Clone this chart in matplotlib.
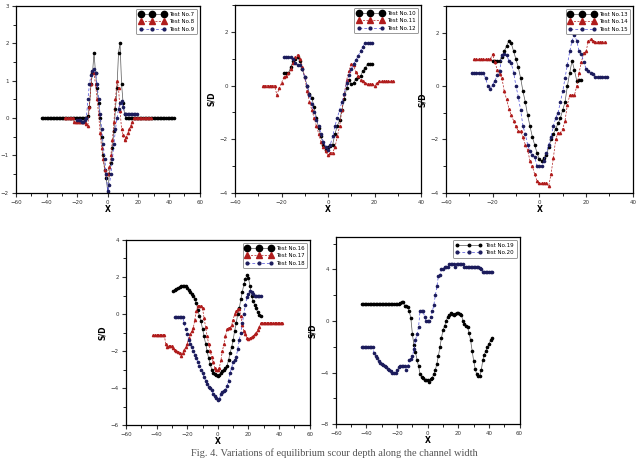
import numpy as np
import matplotlib
matplotlib.use('Agg')
import matplotlib.pyplot as plt
from matplotlib.lines import Line2D

# ---- data (1 unit spacing in X) ----
x7 = np.arange(-43, 44)
y7 = [0]*30 + [0.05, 0.3, 0.9, 1.2, 1.75, 1.2, 0.8, 0.4, 0.0, -0.5, -1.0, -1.4, -1.6, -2.0,
      -1.5, -1.2, -0.8, -0.35, 0.25, 0.8, 1.75, 2.0, 0.9, 0.4, 0.1] + [0]*32
x8 = np.arange(-28, 29)
y8 = [0, 0, 0, 0, 0, 0, -0.1, -0.1, -0.1, -0.1, -0.1, -0.1, -0.1, -0.1, -0.15, -0.2,
      0.3, 0.9, 1.25, 1.2, 0.9, 0.5, 0.1, -0.4, -0.8, -1.1, -1.4, -1.5, -1.5, -1.3, -1.0,
      -0.6, -0.1, 0.5, 1.0, 0.8, 0.2, -0.3, -0.45, -0.6, -0.5, -0.4, -0.3, -0.2, -0.1,
      0, 0, 0, 0, 0, 0, 0, 0, 0, 0, 0, 0]
x9 = np.arange(-20, 20)
y9 = [-0.05, -0.05, -0.05, -0.1, -0.1, -0.05, 0.0, 0.5, 0.9, 1.15, 1.25, 1.3, 1.2, 0.9,
      0.5, 0.1, -0.3, -0.7, -1.1, -1.5, -1.95, -1.8, -1.5, -1.1, -0.7, -0.3, 0.0, 0.25,
      0.4, 0.45, 0.3, 0.1, 0.1, 0.1, 0.1, 0.1, 0.1, 0.1, 0.1, 0.1]

x10 = np.arange(-19, 20)
y10 = [0.45, 0.45, 0.45, 0.7, 0.9, 1.0, 1.05, 0.9, 0.6, 0.3, 0.0, -0.3, -0.45, -0.8, -1.2,
       -1.6, -1.9, -2.2, -2.4, -2.3, -2.25, -2.2, -1.8, -1.5, -1.3, -0.9, -0.5, -0.1, 0.2,
       0.05, 0.1, 0.25, 0.3, 0.35, 0.55, 0.65, 0.8, 0.8, 0.8]
x11 = np.arange(-28, 29)
y11 = [0, 0, 0, 0, 0, 0, -0.35, -0.1, 0.1, 0.3, 0.35, 0.45, 0.6, 0.85, 1.05, 1.15, 1.0,
       0.7, 0.3, -0.2, -0.6, -0.9, -1.2, -1.5, -1.8, -2.1, -2.3, -2.45, -2.6, -2.5, -2.5,
       -2.3, -1.9, -1.5, -0.9, -0.3, 0.2, 0.55, 0.8, 0.75, 0.5, 0.35, 0.2, 0.15, 0.1,
       0.05, 0.05, 0.05, 0, 0.1, 0.15, 0.15, 0.15, 0.15, 0.15, 0.15, 0.15]
x12 = np.arange(-19, 20)
y12 = [1.05, 1.05, 1.05, 1.05, 1.0, 0.85, 0.75, 0.75, 0.6, 0.3, 0.0, -0.35, -0.7, -1.0,
       -1.3, -1.5, -1.8, -2.1, -2.3, -2.4, -2.2, -1.9, -1.5, -1.2, -0.9, -0.6, -0.3, 0.1,
       0.4, 0.6, 0.8, 0.95, 1.1, 1.3, 1.45, 1.6, 1.6, 1.6, 1.6]

x13 = np.arange(-20, 19)
y13 = [0.95, 0.95, 0.95, 0.95, 1.1, 1.3, 1.5, 1.7, 1.6, 1.3, 1.0, 0.7, 0.3, -0.2, -0.6,
       -1.1, -1.5, -1.9, -2.2, -2.5, -2.75, -2.8, -2.7, -2.6, -2.3, -2.0, -1.8, -1.6, -1.4,
       -1.2, -0.9, -0.6, 0.0, 0.5, 0.95, 0.6, 0.2, 0.22, 0.22]
x14 = np.arange(-28, 29)
y14 = [1.0, 1.0, 1.0, 1.0, 1.0, 1.0, 1.0, 1.0, 1.2, 0.9, 0.6, 0.45, 0.3, -0.2, -0.5, -0.85,
       -1.1, -1.3, -1.5, -1.7, -1.7, -1.9, -2.2, -2.4, -2.8, -3.0, -3.3, -3.55, -3.65,
       -3.65, -3.65, -3.65, -3.75, -3.3, -2.7, -2.0, -1.75, -1.75, -1.6, -1.3, -0.7, -0.35,
       -0.35, -0.35, 0.0, 0.5, 0.9, 1.25, 1.3, 1.7, 1.75, 1.7, 1.65, 1.65, 1.65, 1.65, 1.65]
x15 = np.arange(-29, 30)
y15 = [0.5, 0.5, 0.5, 0.5, 0.5, 0.5, 0.3, 0.0, -0.1, 0.05, 0.2, 0.4, 0.55, 1.15, 1.2,
       1.15, 0.95, 0.85, 0.5, 0.0, -0.4, -0.9, -1.5, -1.8, -2.2, -2.45, -2.6, -2.65, -3.0,
       -3.0, -3.0, -2.8, -2.5, -2.2, -1.9, -1.5, -1.2, -1.0, -0.6, -0.2, 0.3, 0.8, 1.3,
       1.7, 1.9, 1.7, 1.3, 1.2, 0.9, 0.65, 0.55, 0.5, 0.45, 0.35, 0.35, 0.35, 0.35, 0.35, 0.35]

x16 = np.arange(-29, 29)
y16 = [1.25, 1.3, 1.35, 1.4, 1.45, 1.5, 1.5, 1.5, 1.5, 1.4, 1.3, 1.2, 1.1, 1.0, 0.8, 0.6,
       0.2, -0.1, -0.4, -0.8, -1.2, -1.6, -2.0, -2.4, -2.7, -3.0, -3.2, -3.25, -3.3, -3.35,
       -3.3, -3.2, -3.1, -3.0, -2.9, -2.8, -2.5, -2.1, -1.8, -1.4, -0.9, -0.5, 0.0, 0.3,
       0.8, 1.2, 1.6, 1.9, 2.1, 1.95, 1.5, 1.0, 0.7, 0.5, 0.3, 0.1, -0.05, -0.1]
x17 = np.arange(-42, 43)
y17 = [-1.15]*8 + [-1.6, -1.8, -1.75, -1.75, -1.75, -1.85, -1.95, -2.0, -2.05, -2.1, -2.25,
       -2.1, -1.95, -1.8, -1.6, -1.3, -1.1, -0.9, -0.75, -0.3, 0.15, 0.45, 0.45, 0.45, 0.3,
       -0.2, -0.7, -1.2, -1.6, -2.0, -2.3, -2.6, -2.9, -3.0, -3.05, -2.9, -2.5, -2.0, -1.6,
       -1.2, -0.8, -0.75, -0.75, -0.6, -0.3, 0.0, 0.15, 0.25, 0.25, -0.1, -0.6, -0.9, -1.1,
       -1.3, -1.35, -1.3, -1.25, -1.2, -1.1, -1.0, -0.85, -0.7, -0.5] + [-0.5]*14
x18 = np.arange(-28, 29)
y18 = [-0.15, -0.15, -0.15, -0.15, -0.15, -0.15, -0.5, -0.8, -1.1, -1.4, -1.6, -1.8, -2.0,
       -2.2, -2.4, -2.6, -2.8, -3.0, -3.2, -3.4, -3.6, -3.8, -3.95, -4.0, -4.1, -4.3, -4.45,
       -4.55, -4.65, -4.6, -4.3, -4.2, -4.15, -4.1, -3.9, -3.6, -3.2, -2.9, -2.6, -2.5,
       -2.3, -1.9, -1.4, -1.0, -0.5, 0.0, 0.5, 0.9, 1.1, 1.25, 1.2, 1.1, 1.0, 1.0, 1.0,
       1.0, 1.0]

x19 = np.arange(-43, 43)
y19 = [1.35]*25 + [1.4, 1.45, 1.45, 1.2, 1.15, 1.1, 0.75, 0.2, -1.0, -1.9, -2.4, -3.0,
       -3.5, -4.1, -4.35, -4.45, -4.6, -4.6, -4.6, -4.75, -4.5, -4.4, -4.1, -3.8, -3.3,
       -2.7, -2.0, -1.3, -0.7, -0.4, 0.0, 0.3, 0.45, 0.6, 0.55, 0.5, 0.55, 0.65, 0.6, 0.55,
       0.5, 0.0, -0.2, -0.4, -0.5, -0.9, -1.5, -2.3, -3.1, -3.7, -4.15, -4.3, -4.3, -3.8,
       -3.0, -2.6, -2.3, -2.0, -1.8, -1.5, -1.35]
x20 = np.arange(-43, 43)
y20 = [-2.0]*8 + [-2.5, -2.7, -2.9, -3.1, -3.25, -3.3, -3.45, -3.5, -3.6, -3.75, -3.8,
       -3.85, -4.0, -4.0, -4.0, -3.8, -3.6, -3.5, -3.5, -3.5, -3.5, -3.8, -3.5, -3.05,
       -2.95, -2.7, -2.2, -1.5, -1.0, -0.5, 0.8, 0.8, 0.8, 0.3, 0.0, 0.0, 0.0, 0.3, 0.75,
       1.25, 2.0, 2.7, 3.5, 3.6, 4.0, 4.0, 4.2, 4.2, 4.2, 4.4, 4.45, 4.45, 4.4, 4.2, 4.45,
       4.45, 4.45, 4.45, 4.4, 4.2, 4.2, 4.2, 4.2, 4.2, 4.2, 4.2, 4.2, 4.2, 4.2, 4.1, 4.0,
       3.8, 3.8, 3.8, 3.8, 3.8, 3.8, 3.8]

BLACK = 'black'
RED = '#b01c1c'
NAVY = '#1c1c5c'

fig = plt.figure(figsize=(6.36, 4.58), dpi=100)

def draw_black(ax, x, y):
    ax.plot(x, y, color='#555555', lw=0.5, marker='o', ms=1.6, mfc=BLACK, mec=BLACK)

def draw_red(ax, x, y):
    ax.plot(x, y, color=RED, lw=0.5, ls=(0, (3, 2)), marker='^', ms=1.6, mfc=RED, mec=RED)

def draw_navy(ax, x, y):
    ax.plot(x, y, color='#4a4ad8', lw=0.5, ls=(0, (4, 3)), marker='o', ms=1.6, mfc=NAVY, mec=NAVY)

def setup(ax, xlim, xmaj, ylim, ymaj, ylab=True):
    ax.set_xlim(xlim)
    ax.set_ylim(ylim)
    ax.set_xticks(np.arange(xlim[0], xlim[1] + 1, xmaj))
    ax.set_xticks(np.arange(xlim[0], xlim[1] + 1, xmaj / 2), minor=True)
    ax.set_yticks(np.arange(ylim[0], ylim[1] + 0.01, ymaj))
    ax.set_yticks(np.arange(ylim[0], ylim[1] + 0.01, ymaj / 2), minor=True)
    ax.tick_params(which='major', direction='out', length=3, width=0.8, labelsize=4, pad=2,
                   colors='#333333')
    ax.tick_params(which='minor', direction='out', length=2, width=0.6)
    for s in ax.spines.values():
        s.set_linewidth(0.9)
    ax.set_xlabel('X', fontsize=5.5, fontweight='bold', labelpad=0)
    if ylab:
        ax.set_ylabel('S/D', fontsize=5.5, fontweight='bold', labelpad=3)

def legend(ax, labels, kinds):
    handles = []
    for k in kinds:
        if k == 'big':
            handles.append(Line2D([], [], color='#555555', lw=0.5, marker='o', ms=4.5, mfc=BLACK, mec=BLACK))
        elif k == 'small':
            handles.append(Line2D([], [], color='#555555', lw=0.5, marker='o', ms=1.8, mfc=BLACK, mec=BLACK))
        elif k == 'tri':
            handles.append(Line2D([], [], color=RED, lw=0.5, ls=(0, (3, 2)), marker='^', ms=4, mfc=RED, mec=RED))
        else:
            handles.append(Line2D([], [], color='#4a4ad8', lw=0.5, ls=(0, (4, 3)), marker='o', ms=2, mfc=NAVY, mec=NAVY))
    leg = ax.legend(handles, labels, loc='upper right', fontsize=4, numpoints=3, handlelength=4.8,
                    borderpad=0.5, labelspacing=0.45, handletextpad=0.6, fancybox=True, framealpha=1,
                    edgecolor='#888888')
    leg.get_frame().set_linewidth(0.6)

# top row (the first panel's S/D label falls outside the page in the original)
ax1 = fig.add_axes([0.025, 0.579, 0.289, 0.408])
draw_black(ax1, x7, y7)
draw_red(ax1, x8, y8)
draw_navy(ax1, x9, y9)
setup(ax1, (-60, 60), 20, (-2, 3), 1, ylab=False)
legend(ax1, ['Test No.7', 'Test No.8', 'Test No.9'], ['big', 'tri', 'navy'])

ax2 = fig.add_axes([0.3695, 0.579, 0.2925, 0.41])
draw_black(ax2, x10, y10)
draw_red(ax2, x11, y11)
draw_navy(ax2, x12, y12)
setup(ax2, (-40, 40), 20, (-4, 3), 2)
ax2.set_yticks([-4, -2, 0, 2])
legend(ax2, ['Test No.10', 'Test No.11', 'Test No.12'], ['big', 'tri', 'navy'])

ax3 = fig.add_axes([0.701, 0.579, 0.294, 0.408])
draw_black(ax3, x13, y13)
draw_red(ax3, x14, y14)
draw_navy(ax3, x15, y15)
setup(ax3, (-40, 40), 20, (-4, 3), 2)
ax3.set_yticks([-4, -2, 0, 2])
legend(ax3, ['Test No.13', 'Test No.14', 'Test No.15'], ['big', 'tri', 'navy'])

# bottom row
ax4 = fig.add_axes([0.198, 0.072, 0.289, 0.404])
draw_black(ax4, x16, y16)
draw_red(ax4, x17, y17)
draw_navy(ax4, x18, y18)
setup(ax4, (-60, 60), 20, (-6, 4), 2)
ax4.set_yticks(np.arange(-6, 4.1, 1), minor=True)
legend(ax4, ['Test No.16', 'Test No.17', 'Test No.18'], ['big', 'tri', 'navy'])

ax5 = fig.add_axes([0.528, 0.074, 0.289, 0.408])
draw_black(ax5, x19, y19)
draw_navy(ax5, x20, y20)
setup(ax5, (-60, 60), 20, (-8, 6.5), 4)
ax5.set_yticks([-8, -4, 0, 4])
ax5.set_yticks(np.arange(-8, 6.1, 2), minor=True)
legend(ax5, ['Test No.19', 'Test No.20'], ['small', 'navy'])

fig.text(0.525, 0.011, 'Fig. 4. Variations of equilibrium scour depth along the channel width',
         ha='center', va='center', fontsize=7.5, color='#555555', family='Liberation Serif')

fig.savefig('out.png', dpi=100)
